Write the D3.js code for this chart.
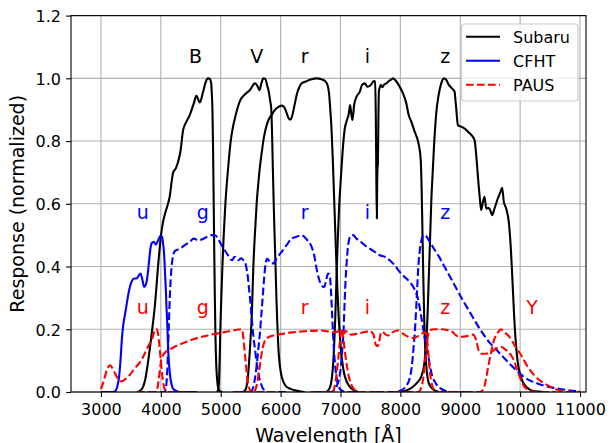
<!DOCTYPE html>
<html>
<head>
<meta charset="utf-8">
<script src="https://cdn.jsdelivr.net/npm/d3@7"></script>
<style>
  body { margin: 0; background: #fff; }
  svg { display: block; font-family: "DejaVu Sans", sans-serif; }
</style>
</head>
<body>
<div class="chart"></div>
<script>
// ticks
var xTicks = [3000, 4000, 5000, 6000, 7000, 8000, 9000, 10000, 11000];
var yTicks = [0, 0.2, 0.4, 0.6, 0.8, 1.0, 1.2];

// Subaru filters [wavelength, response]
var subaruB = [[3600,0],[3660,0.005],[3700,0.015],[3740,0.04],[3790,0.1],[3847,0.185],[3903,0.28],[3958,0.41],[4003,0.5],[4040,0.545],[4080,0.575],[4120,0.6],[4150,0.625],[4180,0.67],[4206,0.7],[4250,0.713],[4290,0.735],[4330,0.77],[4372,0.835],[4428,0.862],[4483,0.883],[4550,0.92],[4594,0.944],[4650,0.923],[4706,0.957],[4750,0.989],[4789,1.0],[4817,0.998],[4840,0.985],[4852,0.95],[4862,0.9],[4872,0.78],[4882,0.62],[4892,0.45],[4902,0.3],[4912,0.18],[4925,0.09],[4940,0.04],[4960,0.012],[4990,0.002],[5030,0]];
var subaruV = [[4940,0],[4960,0.01],[4975,0.05],[4985,0.12],[4994,0.2],[5010,0.3],[5028,0.4],[5050,0.5],[5078,0.6],[5100,0.66],[5122,0.71],[5145,0.76],[5167,0.8],[5200,0.84],[5250,0.883],[5317,0.926],[5405,0.949],[5489,0.963],[5572,0.984],[5615,0.975],[5645,0.962],[5680,0.985],[5711,1.0],[5745,0.998],[5775,0.978],[5800,0.96],[5825,0.93],[5845,0.9],[5858,0.82],[5870,0.72],[5883,0.617],[5895,0.53],[5908,0.45],[5920,0.37],[5932,0.29],[5945,0.22],[5958,0.16],[5972,0.115],[5990,0.08],[6017,0.05],[6045,0.033],[6072,0.023],[6110,0.015],[6156,0.011],[6220,0.006],[6300,0.003],[6400,0]];
var subaruR = [[5380,0],[5420,0.01],[5450,0.04],[5489,0.14],[5520,0.25],[5545,0.4],[5570,0.5],[5600,0.6],[5630,0.67],[5656,0.72],[5690,0.77],[5711,0.8],[5740,0.83],[5767,0.85],[5800,0.868],[5850,0.883],[5900,0.898],[5950,0.907],[6017,0.913],[6050,0.91],[6072,0.904],[6100,0.89],[6128,0.875],[6160,0.868],[6185,0.875],[6228,0.91],[6260,0.94],[6283,0.957],[6320,0.975],[6350,0.984],[6433,0.991],[6517,0.997],[6600,1.0],[6683,0.997],[6750,0.99],[6790,0.975],[6810,0.95],[6830,0.9],[6850,0.84],[6870,0.75],[6890,0.64],[6910,0.53],[6930,0.42],[6950,0.32],[6970,0.24],[6990,0.18],[7010,0.13],[7035,0.09],[7060,0.06],[7100,0.035],[7150,0.018],[7220,0.006],[7300,0]];
var subaruI = [[6750,0],[6800,0.006],[6840,0.025],[6870,0.07],[6890,0.13],[6910,0.22],[6930,0.34],[6950,0.46],[6975,0.58],[7006,0.68],[7033,0.76],[7072,0.84],[7100,0.862],[7139,0.888],[7161,0.915],[7183,0.883],[7200,0.867],[7228,0.915],[7267,0.941],[7322,0.957],[7361,0.979],[7406,0.984],[7450,0.973],[7506,0.979],[7556,0.991],[7578,0.99],[7590,0.88],[7600,0.66],[7608,0.553],[7612,0.65],[7618,0.71],[7625,0.73],[7632,0.85],[7642,0.96],[7656,0.97],[7672,0.979],[7700,0.972],[7730,0.98],[7767,0.984],[7800,0.99],[7840,0.995],[7878,1.0],[7933,0.99],[7989,0.973],[8044,0.952],[8100,0.92],[8139,0.883],[8183,0.862],[8239,0.83],[8294,0.8],[8320,0.775],[8340,0.74],[8355,0.65],[8370,0.5],[8385,0.35],[8400,0.22],[8420,0.12],[8445,0.06],[8480,0.025],[8550,0.008],[8650,0]];
var subaruZ = [[8000,0],[8100,0.005],[8200,0.015],[8280,0.03],[8350,0.05],[8400,0.09],[8433,0.16],[8455,0.25],[8472,0.35],[8495,0.48],[8517,0.61],[8540,0.7],[8561,0.78],[8600,0.89],[8639,0.947],[8683,0.984],[8728,1.0],[8767,0.995],[8806,0.98],[8861,0.968],[8906,0.957],[8920,0.93],[8933,0.904],[8961,0.85],[9017,0.846],[9072,0.84],[9128,0.83],[9183,0.82],[9239,0.803],[9267,0.755],[9294,0.69],[9322,0.628],[9350,0.58],[9378,0.606],[9406,0.622],[9433,0.585],[9472,0.587],[9500,0.58],[9533,0.564],[9572,0.585],[9628,0.617],[9672,0.638],[9700,0.651],[9728,0.606],[9767,0.585],[9810,0.543],[9845,0.457],[9872,0.355],[9898,0.25],[9925,0.165],[9960,0.095],[10017,0.045],[10100,0.017],[10239,0.002],[10400,0]];

// CFHT filters
var cfhtU = [[3000,0],[3200,0],[3240,0.003],[3270,0.015],[3306,0.053],[3330,0.11],[3350,0.17],[3372,0.213],[3400,0.245],[3430,0.28],[3456,0.31],[3490,0.34],[3520,0.355],[3550,0.362],[3594,0.362],[3633,0.372],[3661,0.378],[3694,0.356],[3720,0.335],[3745,0.34],[3772,0.362],[3800,0.41],[3825,0.455],[3850,0.475],[3883,0.479],[3917,0.47],[3956,0.484],[3994,0.498],[4020,0.495],[4040,0.47],[4056,0.436],[4070,0.38],[4083,0.33],[4095,0.27],[4106,0.223],[4118,0.16],[4128,0.117],[4145,0.07],[4161,0.043],[4185,0.02],[4206,0.01],[4260,0.003],[4320,0],[4600,0]];
var cfhtG = [[3800,0],[4060,0],[4080,0.008],[4095,0.03],[4108,0.07],[4120,0.13],[4135,0.22],[4150,0.3],[4165,0.36],[4180,0.4],[4200,0.43],[4230,0.448],[4260,0.452],[4317,0.457],[4400,0.468],[4483,0.479],[4550,0.489],[4622,0.484],[4694,0.487],[4772,0.495],[4844,0.5],[4917,0.498],[4983,0.479],[5050,0.457],[5122,0.436],[5189,0.42],[5233,0.431],[5289,0.42],[5344,0.426],[5380,0.42],[5405,0.415],[5430,0.395],[5450,0.372],[5470,0.335],[5489,0.3],[5510,0.255],[5528,0.213],[5550,0.17],[5572,0.138],[5595,0.1],[5617,0.074],[5645,0.045],[5672,0.027],[5700,0.013],[5739,0.005],[5800,0],[6100,0]];
var cfhtR = [[5300,0],[5500,0],[5530,0.008],[5560,0.03],[5600,0.085],[5630,0.14],[5656,0.19],[5680,0.25],[5700,0.3],[5728,0.37],[5750,0.41],[5775,0.425],[5800,0.42],[5840,0.41],[5878,0.41],[5933,0.426],[6017,0.447],[6100,0.468],[6183,0.489],[6267,0.495],[6350,0.5],[6433,0.487],[6506,0.468],[6561,0.436],[6600,0.394],[6639,0.362],[6683,0.34],[6728,0.335],[6767,0.362],[6794,0.378],[6822,0.372],[6839,0.33],[6861,0.245],[6883,0.16],[6900,0.11],[6917,0.074],[6940,0.04],[6961,0.02],[7017,0.005],[7080,0],[7400,0]];
var cfhtI = [[6600,0],[6850,0],[6900,0.008],[6950,0.025],[6985,0.05],[7017,0.1],[7035,0.15],[7050,0.19],[7062,0.25],[7072,0.3],[7086,0.36],[7100,0.404],[7128,0.468],[7150,0.49],[7172,0.498],[7211,0.5],[7267,0.489],[7339,0.479],[7406,0.468],[7489,0.457],[7572,0.447],[7656,0.436],[7739,0.431],[7822,0.42],[7906,0.404],[7989,0.383],[8072,0.367],[8156,0.351],[8230,0.33],[8290,0.3],[8340,0.25],[8400,0.18],[8460,0.12],[8520,0.06],[8600,0.025],[8700,0.008],[8850,0],[9200,0]];
var cfhtZ = [[7600,0],[7900,0],[8000,0.004],[8100,0.02],[8150,0.04],[8190,0.08],[8220,0.14],[8245,0.2],[8273,0.3],[8300,0.4],[8330,0.46],[8360,0.49],[8390,0.5],[8412,0.5],[8470,0.485],[8550,0.46],[8650,0.43],[8750,0.395],[8850,0.36],[8950,0.325],[9050,0.29],[9150,0.258],[9250,0.225],[9330,0.2],[9420,0.175],[9500,0.155],[9580,0.14],[9660,0.123],[9750,0.105],[9850,0.085],[9950,0.067],[10050,0.05],[10150,0.038],[10250,0.03],[10400,0.02],[10600,0.012],[10800,0.006],[11000,0.002]];

// PAUS filters
var pausU = [[3000,0.01],[3030,0.025],[3060,0.045],[3100,0.07],[3130,0.082],[3155,0.085],[3185,0.078],[3220,0.065],[3260,0.05],[3300,0.038],[3340,0.034],[3380,0.037],[3430,0.045],[3485,0.055],[3540,0.07],[3600,0.083],[3652,0.095],[3700,0.11],[3750,0.13],[3800,0.15],[3847,0.165],[3880,0.185],[3910,0.2],[3935,0.2],[3955,0.185],[3975,0.15],[3995,0.11],[4015,0.07],[4035,0.035],[4060,0.012],[4100,0],[4500,0]];
var pausG = [[3600,0],[3900,0],[3940,0.01],[3965,0.04],[3990,0.08],[4010,0.105],[4030,0.115],[4067,0.125],[4150,0.136],[4261,0.147],[4400,0.158],[4539,0.168],[4706,0.177],[4872,0.184],[5039,0.19],[5206,0.196],[5300,0.199],[5340,0.2],[5360,0.195],[5380,0.17],[5400,0.13],[5420,0.09],[5440,0.05],[5465,0.02],[5500,0.004],[5540,0],[5900,0]];
var pausR = [[5200,0],[5540,0],[5580,0.008],[5610,0.03],[5640,0.065],[5670,0.105],[5700,0.14],[5730,0.16],[5767,0.17],[5822,0.177],[5906,0.181],[6017,0.185],[6183,0.19],[6350,0.193],[6517,0.195],[6683,0.196],[6822,0.192],[6900,0.19],[6950,0.192],[6985,0.198],[7010,0.2],[7030,0.19],[7055,0.16],[7080,0.12],[7110,0.08],[7145,0.045],[7190,0.02],[7240,0.006],[7290,0],[7700,0]];
var pausI = [[6500,0],[6860,0],[6900,0.015],[6930,0.05],[6960,0.1],[6985,0.15],[7005,0.185],[7020,0.2],[7040,0.195],[7061,0.186],[7085,0.195],[7110,0.19],[7183,0.183],[7294,0.186],[7406,0.191],[7489,0.194],[7530,0.19],[7555,0.18],[7575,0.16],[7600,0.148],[7620,0.146],[7645,0.16],[7670,0.185],[7700,0.192],[7739,0.186],[7794,0.18],[7840,0.186],[7878,0.191],[7961,0.196],[8044,0.186],[8128,0.176],[8211,0.172],[8294,0.178],[8378,0.188],[8420,0.19],[8445,0.17],[8465,0.13],[8485,0.08],[8510,0.04],[8540,0.015],[8580,0.004],[8620,0],[9000,0]];
var pausZ = [[7900,0],[8300,0],[8340,0.01],[8370,0.03],[8400,0.07],[8425,0.12],[8450,0.165],[8470,0.19],[8490,0.197],[8572,0.2],[8683,0.2],[8794,0.197],[8878,0.19],[8933,0.18],[9017,0.176],[9128,0.179],[9211,0.183],[9240,0.178],[9267,0.165],[9290,0.145],[9306,0.133],[9350,0.122],[9433,0.122],[9517,0.128],[9600,0.138],[9683,0.144],[9767,0.133],[9850,0.117],[9906,0.096],[9961,0.064],[10017,0.037],[10072,0.016],[10156,0.005],[10250,0],[10600,0]];
var pausY = [[8900,0],[9300,0],[9350,0.002],[9406,0.02],[9461,0.074],[9517,0.128],[9572,0.17],[9628,0.19],[9683,0.2],[9739,0.19],[9822,0.176],[9906,0.149],[10017,0.117],[10128,0.08],[10239,0.053],[10350,0.034],[10461,0.021],[10572,0.011],[10683,0.003],[10794,0],[11000,0]];

// band names and where they sit (wavelength)
var subaruNames = ['B', 'V', 'r', 'i', 'z'];
var subaruNameX = [4580, 5600, 6400, 7450, 8750];
var cfhtNames = ['u', 'g', 'r', 'i', 'z'];
var cfhtNameX = [3700, 4700, 6400, 7450, 8750];
var pausNames = ['u', 'g', 'r', 'i', 'z', 'Y'];
var pausNameX = [3700, 4700, 6400, 7450, 8750, 10200];

var surveys = [
	{ name: 'Subaru', color: '#000000', dash: null, labelY: 1.05, names: subaruNames, nameX: subaruNameX,
	  curves: [subaruB, subaruV, subaruR, subaruI, subaruZ] },
	{ name: 'CFHT', color: '#0000ff', dash: null, labelY: 0.55, names: cfhtNames, nameX: cfhtNameX,
	  curves: [cfhtU, cfhtG, cfhtR, cfhtI, cfhtZ] },
	{ name: 'PAUS', color: '#ff0000', dash: '7.7,3.3', labelY: 0.25, names: pausNames, nameX: pausNameX,
	  curves: [pausU, pausG, pausR, pausI, pausZ, pausY] }
];
// CFHT bands past u are dashed in the figure
var cfhtDashFrom = 1;

// sizes
var width = 611, height = 443;
var mLeft = 71, mRight = 586, mTop = 15.6, mBottom = 392;

var x = d3.scaleLinear().domain([2500, 11100]).range([mLeft, mRight]);
var y = d3.scaleLinear().domain([0, 1.2]).range([mBottom, mTop]);

var svg = d3.select('.chart').append('svg')
	.attr('width', width)
	.attr('height', height);

svg.append('defs').append('clipPath').attr('id', 'plot')
	.append('rect')
	.attr('x', mLeft).attr('y', mTop)
	.attr('width', mRight - mLeft).attr('height', mBottom - mTop);

// grid
var grid = svg.append('g').attr('class', 'grid');
grid.selectAll('.gx').data(xTicks).enter().append('line')
	.attr('x1', function(d) { return x(d); })
	.attr('x2', function(d) { return x(d); })
	.attr('y1', mTop).attr('y2', mBottom)
	.attr('stroke', '#b0b0b0').attr('stroke-width', 1.1);
grid.selectAll('.gy').data(yTicks).enter().append('line')
	.attr('y1', function(d) { return y(d); })
	.attr('y2', function(d) { return y(d); })
	.attr('x1', mLeft).attr('x2', mRight)
	.attr('stroke', '#b0b0b0').attr('stroke-width', 1.1);

// curves
var line = d3.line()
	.x(function(d) { return x(d[0]); })
	.y(function(d) { return y(d[1]); })
	.curve(d3.curveMonotoneX);

var plot = svg.append('g').attr('clip-path', 'url(#plot)');
surveys.forEach(function(s) {
	plot.append('g').selectAll('path')
		.data(s.curves)
		.enter().append('path')
		.attr('d', line)
		.attr('fill', 'none')
		.attr('stroke', s.color)
		.attr('stroke-width', 2.1)
		.attr('stroke-linejoin', 'round')
		.attr('stroke-dasharray', function(d, i) {
			if (s.name === 'CFHT' && i >= cfhtDashFrom) return '7.7,3.3';
			return s.dash;
		});
});

// band names
surveys.forEach(function(s) {
	svg.append('g').selectAll('text')
		.data(s.names)
		.enter().append('text')
		.attr('x', function(d, i) { return x(s.nameX[i]); })
		.attr('y', y(s.labelY))
		.attr('text-anchor', 'middle')
		.attr('font-size', 19)
		.attr('fill', s.color)
		.text(function(d) { return d; });
});

// axes
var xAxis = d3.axisBottom(x).tickValues(xTicks).tickSize(4.9).tickPadding(6.7)
	.tickFormat(d3.format('d'));
var yAxis = d3.axisLeft(y).tickValues(yTicks).tickSize(4.9).tickPadding(5.1)
	.tickFormat(d3.format('.1f'));

var gx = svg.append('g')
	.attr('transform', 'translate(0,' + mBottom + ')')
	.call(xAxis);
var gy = svg.append('g')
	.attr('transform', 'translate(' + mLeft + ',0)')
	.call(yAxis);
[gx, gy].forEach(function(g) {
	g.attr('font-size', 16).attr('font-family', '"DejaVu Sans", sans-serif');
	g.select('.domain').remove();
	g.selectAll('line').attr('stroke', '#000').attr('stroke-width', 1.1);
	g.selectAll('text').attr('fill', '#000');
});
gy.selectAll('text').attr('dy', '0.36em');

// frame
svg.append('rect')
	.attr('x', mLeft).attr('y', mTop)
	.attr('width', mRight - mLeft).attr('height', mBottom - mTop)
	.attr('fill', 'none').attr('stroke', '#000').attr('stroke-width', 1.1);

// axis titles
svg.append('text')
	.attr('x', (mLeft + mRight) / 2).attr('y', 442)
	.attr('text-anchor', 'middle').attr('font-size', 19)
	.text('Wavelength [Å]');
svg.append('text')
	.attr('transform', 'translate(24,' + ((mTop + mBottom) / 2) + ') rotate(-90)')
	.attr('text-anchor', 'middle').attr('font-size', 19)
	.text('Response (normalized)');

// legend
var legend = svg.append('g').attr('class', 'legend');
legend.append('rect')
	.attr('x', 461.7).attr('y', 24).attr('width', 116.3).attr('height', 77)
	.attr('rx', 3)
	.attr('fill', '#fff').attr('fill-opacity', 0.8)
	.attr('stroke', '#cccccc').attr('stroke-width', 1.1);
var items = legend.selectAll('.item').data(surveys).enter().append('g')
	.attr('transform', function(d, i) { return 'translate(0,' + (36.7 + i * 24) + ')'; });
items.append('line')
	.attr('x1', 466).attr('x2', 500)
	.attr('stroke', function(d) { return d.color; })
	.attr('stroke-width', 2.1)
	.attr('stroke-dasharray', function(d) { return d.dash; });
items.append('text')
	.attr('x', 513).attr('y', 6.3)
	.attr('font-size', 16)
	.text(function(d) { return d.name; });
</script>
</body>
</html>
